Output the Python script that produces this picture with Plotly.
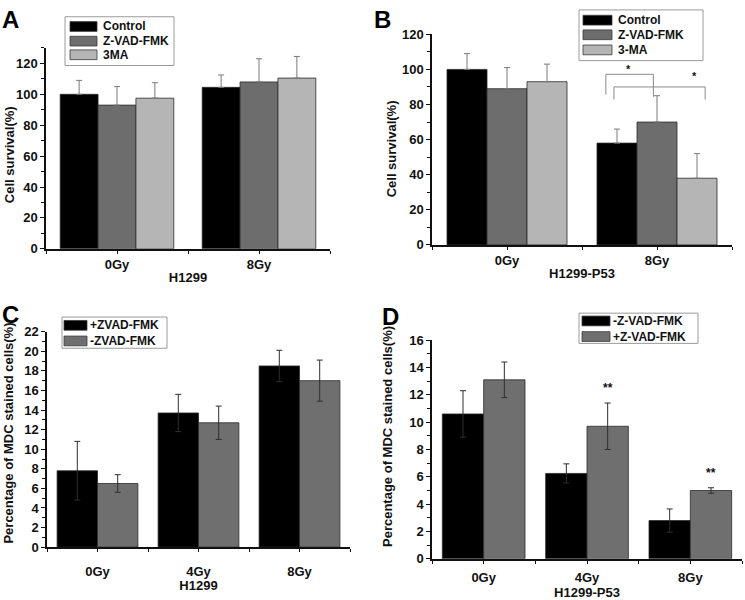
import plotly.graph_objects as go

# ---------------- data ----------------
ab_groups = ["0Gy", "8Gy"]
cd_groups = ["0Gy", "4Gy", "8Gy"]

a_names = ["Control", "Z-VAD-FMK", "3MA"]
a_values = [[100.0, 104.5], [93.0, 108.0], [97.5, 110.5]]
a_errors = [[9.0, 8.0], [12.0, 15.0], [10.0, 14.0]]

b_names = ["Control", "Z-VAD-FMK", "3-MA"]
b_values = [[100.0, 58.0], [89.0, 70.0], [93.0, 38.0]]
b_errors = [[9.0, 8.0], [12.0, 15.0], [10.0, 14.0]]

c_names = ["+ZVAD-FMK", "-ZVAD-FMK"]
c_values = [[7.8, 13.7, 18.5], [6.5, 12.7, 17.0]]
c_errors = [[3.0, 1.9, 1.6], [0.9, 1.7, 2.1]]

d_names = ["-Z-VAD-FMK", "+Z-VAD-FMK"]
d_values = [[10.6, 6.25, 2.8], [13.1, 9.7, 5.0]]
d_errors = [[1.7, 0.7, 0.85], [1.3, 1.7, 0.2]]
d_stars = ["", "**", "**"]  # significance over +Z-VAD-FMK bars

# significance brackets in panel B: (x_left, x_right, y_top, y_left_end, y_right_end, star_x, star_y)
b_brackets = [(0.659, 0.976, 97.2, 85.6, 84.4, 0.807, 100.5),
              (0.713, 1.321, 90.0, 82.8, 82.8, 1.253, 96.0)]

three_colors = ["#000000", "#6d6d6d", "#b5b5b5"]
two_colors = ["#000000", "#6f6f6f"]

FONT = "Liberation Sans, Arial, sans-serif"
W, H = 745, 600
BARGAP = 0.2

fig = go.Figure()


def px_x(p):
    return p / W


def px_y(p):
    return 1 - p / H


def add_bars(names, values, errors, colors, xa, ya, n, one_sided, ecolor):
    xs = list(range(n))
    m = len(names)
    bw = (1 - BARGAP) / m
    for k, (name, v, e, c) in enumerate(zip(names, values, errors, colors)):
        if one_sided:
            fig.add_trace(go.Bar(
                x=xs, y=v, name=name, xaxis=xa, yaxis=ya, showlegend=False,
                marker=dict(color=c, line=dict(color="#2a2a2a", width=0.8)),
            ))
            # upward-only error bar: centred halfway between bar top and error top
            off = (k - (m - 1) / 2) * bw
            fig.add_trace(go.Scatter(
                x=[i + off for i in xs], y=[vi + ei / 2 for vi, ei in zip(v, e)],
                mode="markers", marker=dict(size=1, opacity=0),
                error_y=dict(type="data", array=[ei / 2 for ei in e], symmetric=True,
                             color=ecolor, thickness=1, width=3),
                xaxis=xa, yaxis=ya, showlegend=False, hoverinfo="skip",
            ))
        else:
            fig.add_trace(go.Bar(
                x=xs, y=v, name=name, xaxis=xa, yaxis=ya, showlegend=False,
                marker=dict(color=c, line=dict(color="#2a2a2a", width=0.8)),
                error_y=dict(type="data", array=e, symmetric=True,
                             color=ecolor, thickness=1, width=3),
            ))


add_bars(a_names, a_values, a_errors, three_colors, "x", "y", 2, True, "#7a7a7a")
add_bars(b_names, b_values, b_errors, three_colors, "x2", "y2", 2, True, "#7a7a7a")
add_bars(c_names, c_values, c_errors, two_colors, "x3", "y3", 3, False, "#2e2e2e")
add_bars(d_names, d_values, d_errors, two_colors, "x4", "y4", 3, False, "#2e2e2e")

tickfont = dict(family=FONT, size=13, color="#111", weight=700)
titlefont = dict(family=FONT, size=13, color="#111", weight=700)


def xaxis_cfg(domain, yanchor, labels, title, standoff, lblstand):
    n = len(labels)
    return dict(domain=domain, anchor=yanchor, range=[-0.5, n - 0.5],
                tickmode="array", tickvals=list(range(n)), ticktext=labels,
                ticks="outside", ticklen=3, tickwidth=1.2, tickcolor="#111",
                ticklabelstandoff=lblstand,
                minor=dict(tickmode="array", tickvals=[i + 0.5 for i in range(-1, n)],
                           ticks="outside", ticklen=3, tickwidth=1, tickcolor="#111"),
                showline=True, linecolor="#111", linewidth=1.5,
                showgrid=False, zeroline=False, tickfont=tickfont,
                title=dict(text=title, font=titlefont, standoff=standoff), fixedrange=True)


def yaxis_cfg(domain, xanchor, rng, dtick):
    return dict(domain=domain, anchor=xanchor, range=rng, dtick=dtick, tick0=0,
                ticks="outside", ticklen=4, tickwidth=1.2, tickcolor="#111",
                minor=dict(dtick=dtick / 2, tick0=0, ticks="outside", ticklen=3,
                           tickwidth=1, tickcolor="#111"),
                showline=True, linecolor="#111", linewidth=1.5,
                showgrid=False, zeroline=False, tickfont=tickfont, fixedrange=True)


fig.update_layout(
    xaxis=xaxis_cfg([px_x(46), px_x(330)], "y", ab_groups, "H1299", 2, 0),
    yaxis=yaxis_cfg([px_y(248), px_y(42)], "x", [0, 130], 20),
    xaxis2=xaxis_cfg([px_x(432), px_x(732)], "y2", ab_groups, "H1299-P53", 2, 0),
    yaxis2=yaxis_cfg([px_y(244), px_y(28)], "x2", [0, 120], 20),
    xaxis3=xaxis_cfg([px_x(47), px_x(350)], "y3", cd_groups, "H1299", 0, 8),
    yaxis3=yaxis_cfg([px_y(554), px_y(333)], "x3", [0, 22], 2),
    xaxis4=xaxis_cfg([px_x(432), px_x(742)], "y4", cd_groups, "H1299-P53", 0, 3),
    yaxis4=yaxis_cfg([px_y(566), px_y(341.7)], "x4", [0, 16], 2),
    barmode="group", bargap=BARGAP, bargroupgap=0,
    width=W, height=H, margin=dict(l=0, r=0, t=0, b=0),
    paper_bgcolor="white", plot_bgcolor="white",
    font=dict(family=FONT, color="#111"),
    showlegend=False,
)

# y-axis titles (placed as rotated text next to each axis)
for text, cx, cy, size in [("Cell survival(%)", 9, 152, 13),
                           ("Cell survival(%)", 391, 146, 13),
                           ("Percentage of MDC stained cells(%)", 8.5, 437, 13),
                           ("Percentage of MDC stained cells(%)", 388, 440, 13)]:
    fig.add_annotation(text=text, x=px_x(cx), y=px_y(cy), xref="paper", yref="paper",
                       textangle=-90, showarrow=False, xanchor="center", yanchor="middle",
                       font=dict(family=FONT, size=size, color="#111", weight=700))

# legends drawn as boxes: (names, colors, box x0, y0, x1, y1, swatch x0, x1, row centers, text x)
legends = [
    (a_names, three_colors, 65, 10, 174, 60, 70, 97, [20, 35, 49], 101),
    (b_names, three_colors, 579, 3, 703, 55, 583, 612, [13.5, 28.5, 44], 616),
    (c_names, two_colors, 62, 318, 167, 350, 64, 87, [326.5, 342.5], 88),
    (d_names, two_colors, 579, 314, 698, 345, 582, 610, [322, 338], 611),
]
for names, colors, bx0, by0, bx1, by1, sx0, sx1, rows, tx in legends:
    fig.add_shape(type="rect", xref="paper", yref="paper",
                  x0=px_x(bx0), x1=px_x(bx1), y0=px_y(by1), y1=px_y(by0),
                  line=dict(color="#9a9a9a", width=1), fillcolor="white", layer="above")
    for name, col, ry in zip(names, colors, rows):
        fig.add_shape(type="rect", xref="paper", yref="paper",
                      x0=px_x(sx0), x1=px_x(sx1), y0=px_y(ry + 5), y1=px_y(ry - 5),
                      line=dict(color="#3a3a3a", width=0.8), fillcolor=col, layer="above")
        fig.add_annotation(text=name, x=px_x(tx), y=px_y(ry), xref="paper", yref="paper",
                           xanchor="left", yanchor="middle", showarrow=False,
                           font=dict(family=FONT, size=12, color="#111", weight=700))

# panel letters
for letter, lx, ly in [("A", 10, 12.5), ("B", 382, 12.5), ("C", 10, 315), ("D", 390, 317)]:
    fig.add_annotation(text=letter, x=px_x(lx), y=px_y(ly), xref="paper", yref="paper",
                       xanchor="center", yanchor="middle", showarrow=False,
                       font=dict(family=FONT, size=24, color="#000", weight=700))

# significance brackets panel B
for xl, xr, yt, yl, yr, sx, sy in b_brackets:
    fig.add_shape(type="path", xref="x2", yref="y2",
                  path=f"M {xl},{yl} L {xl},{yt} L {xr},{yt} L {xr},{yr}",
                  line=dict(color="#8a8a8a", width=1))
    fig.add_annotation(text="*", x=sx, y=sy, xref="x2", yref="y2", showarrow=False,
                       font=dict(family=FONT, size=11, color="#111", weight=700))

# stars panel D
for i, s in enumerate(d_stars):
    if s:
        fig.add_annotation(text=s, x=i + 0.2, y=d_values[1][i] + d_errors[1][i] + 0.45,
                           xref="x4", yref="y4", showarrow=False, yanchor="bottom",
                           font=dict(family=FONT, size=12, color="#111", weight=700))

fig.write_html("out.html", config={"displayModeBar": False},
               post_script="document.body.style.margin='0px';")
